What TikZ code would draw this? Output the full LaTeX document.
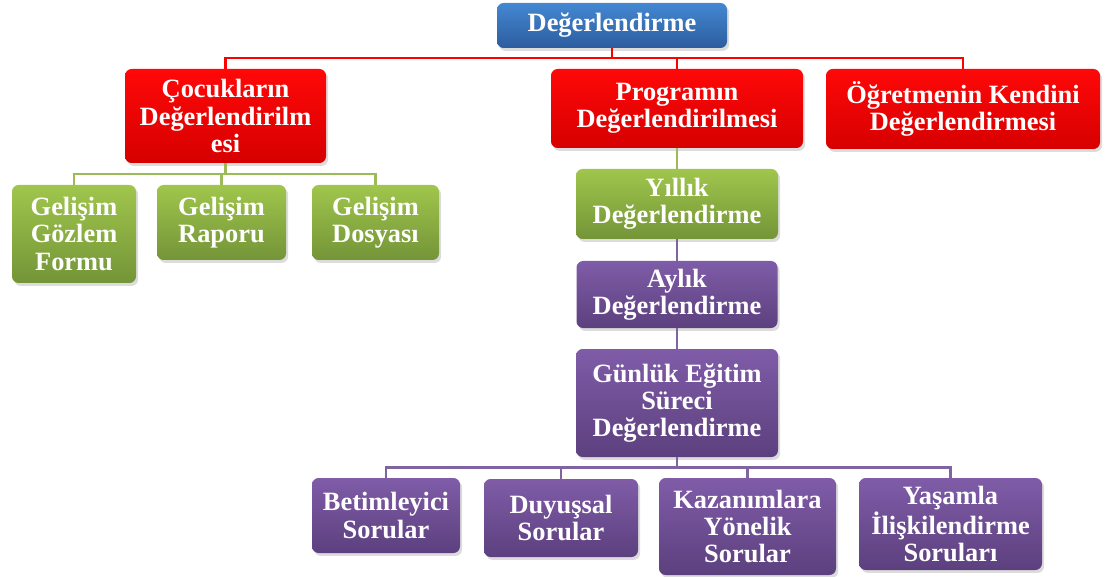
\documentclass[tikz,border=0pt]{standalone}
\usepackage{fontspec}
\setmainfont{Liberation Serif}
\usetikzlibrary{shadows}

\definecolor{bluetop}{RGB}{68,136,210}
\definecolor{bluebot}{RGB}{44,92,158}
\definecolor{redtop}{RGB}{255,8,8}
\definecolor{redbot}{RGB}{214,0,0}
\definecolor{greentop}{RGB}{160,198,76}
\definecolor{greenbot}{RGB}{116,148,56}
\definecolor{purpletop}{RGB}{128,92,168}
\definecolor{purplebot}{RGB}{92,64,126}
\definecolor{redlink}{RGB}{255,0,0}
\definecolor{greenlink}{RGB}{155,187,89}
\definecolor{purplelink}{RGB}{128,100,162}

\tikzset{
  box/.style={rounded corners=5pt, inner sep=0pt, align=center, text=white,
    font=\fontsize{19.8}{20.3}\selectfont\bfseries,
    drop shadow={opacity=0.28, shadow xshift=1.6pt, shadow yshift=-2.2pt}},
  sz/.style 2 args={minimum width=#1*0.75pt, minimum height=#2*0.75pt},
  bluebox/.style={box, top color=bluetop, bottom color=bluebot},
  redbox/.style={box, top color=redtop, bottom color=redbot},
  greenbox/.style={box, top color=greentop, bottom color=greenbot},
  purplebox/.style={box, top color=purpletop, bottom color=purplebot},
  redline/.style={draw=redlink, line width=2.2pt},
  greenline/.style={draw=greenlink, line width=1.7pt},
  purpleline/.style={draw=purplelink, line width=1.7pt},
}

\begin{document}
\begin{tikzpicture}[x=0.75pt, y=-0.75pt]
\useasboundingbox (0,0) rectangle (1117,577);

% root
\node[bluebox, sz={230}{45}] (root) at (612,25.5) {Değerlendirme};

% first level
\node[redbox, sz={201}{94}] (coc) at (225.5,116) {Çocukların\\Değerlendirilm\\esi};
\node[redbox, sz={252}{79}] (prog) at (677,108.5) {Programın\\Değerlendirilmesi};
\node[redbox, sz={274}{80}] (ogr) at (963,109) {Öğretmenin Kendini\\Değerlendirmesi};

% children of coc
\node[greenbox, sz={124}{98}] (gf) at (74,234) {Gelişim\\Gözlem\\Formu};
\node[greenbox, sz={129}{75}] (gr) at (221.5,222.5) {Gelişim\\Raporu};
\node[greenbox, sz={127}{75}] (gd) at (375.5,222.5) {Gelişim\\Dosyası};

% program chain
\node[greenbox, sz={202}{70}] (yil) at (677,204) {Yıllık\\Değerlendirme};
\node[purplebox, sz={201}{67}] (ayl) at (677,294.5) {Aylık\\Değerlendirme};
\node[purplebox, sz={202}{108}] (gun) at (677,403) {Günlük Eğitim\\Süreci\\Değerlendirme};

% question types
\node[purplebox, sz={148}{75}] (s1) at (386,515.5) {Betimleyici\\Sorular};
\node[purplebox, sz={154}{78}] (s2) at (561,518) {Duyuşsal\\Sorular};
\node[purplebox, sz={177}{97}] (s3) at (747.5,526.5) {Kazanımlara\\Yönelik\\Sorular};
\node[purplebox, sz={183}{92}] (s4) at (950.5,524) {Yaşamla\\İlişkilendirme\\Soruları};

% bus points
\coordinate (rb) at (612,58);
\coordinate (gb) at (225,174);
\coordinate (pb) at (677,467.5);

% connectors
\draw[redline] (root.south) -- (rb);
\draw[redline] (coc.north) |- (rb) -| (ogr.north);
\draw[redline] (prog.north) -- (prog.north |- rb);

\draw[greenline] (coc.south) -- (coc.south |- gb);
\draw[greenline] (gf.north) |- (gb) -| (gd.north);
\draw[greenline] (gr.north) -- (gr.north |- gb);

\draw[greenline] (prog.south) -- (yil.north);
\draw[purpleline] (yil.south) -- (ayl.north);
\draw[purpleline] (ayl.south) -- (gun.north);

\draw[purpleline] (gun.south) -- (pb);
\draw[purpleline] (s1.north) |- (pb) -| (s4.north);
\draw[purpleline] (s2.north) -- (s2.north |- pb);
\draw[purpleline] (s3.north) -- (s3.north |- pb);
\end{tikzpicture}
\end{document}
